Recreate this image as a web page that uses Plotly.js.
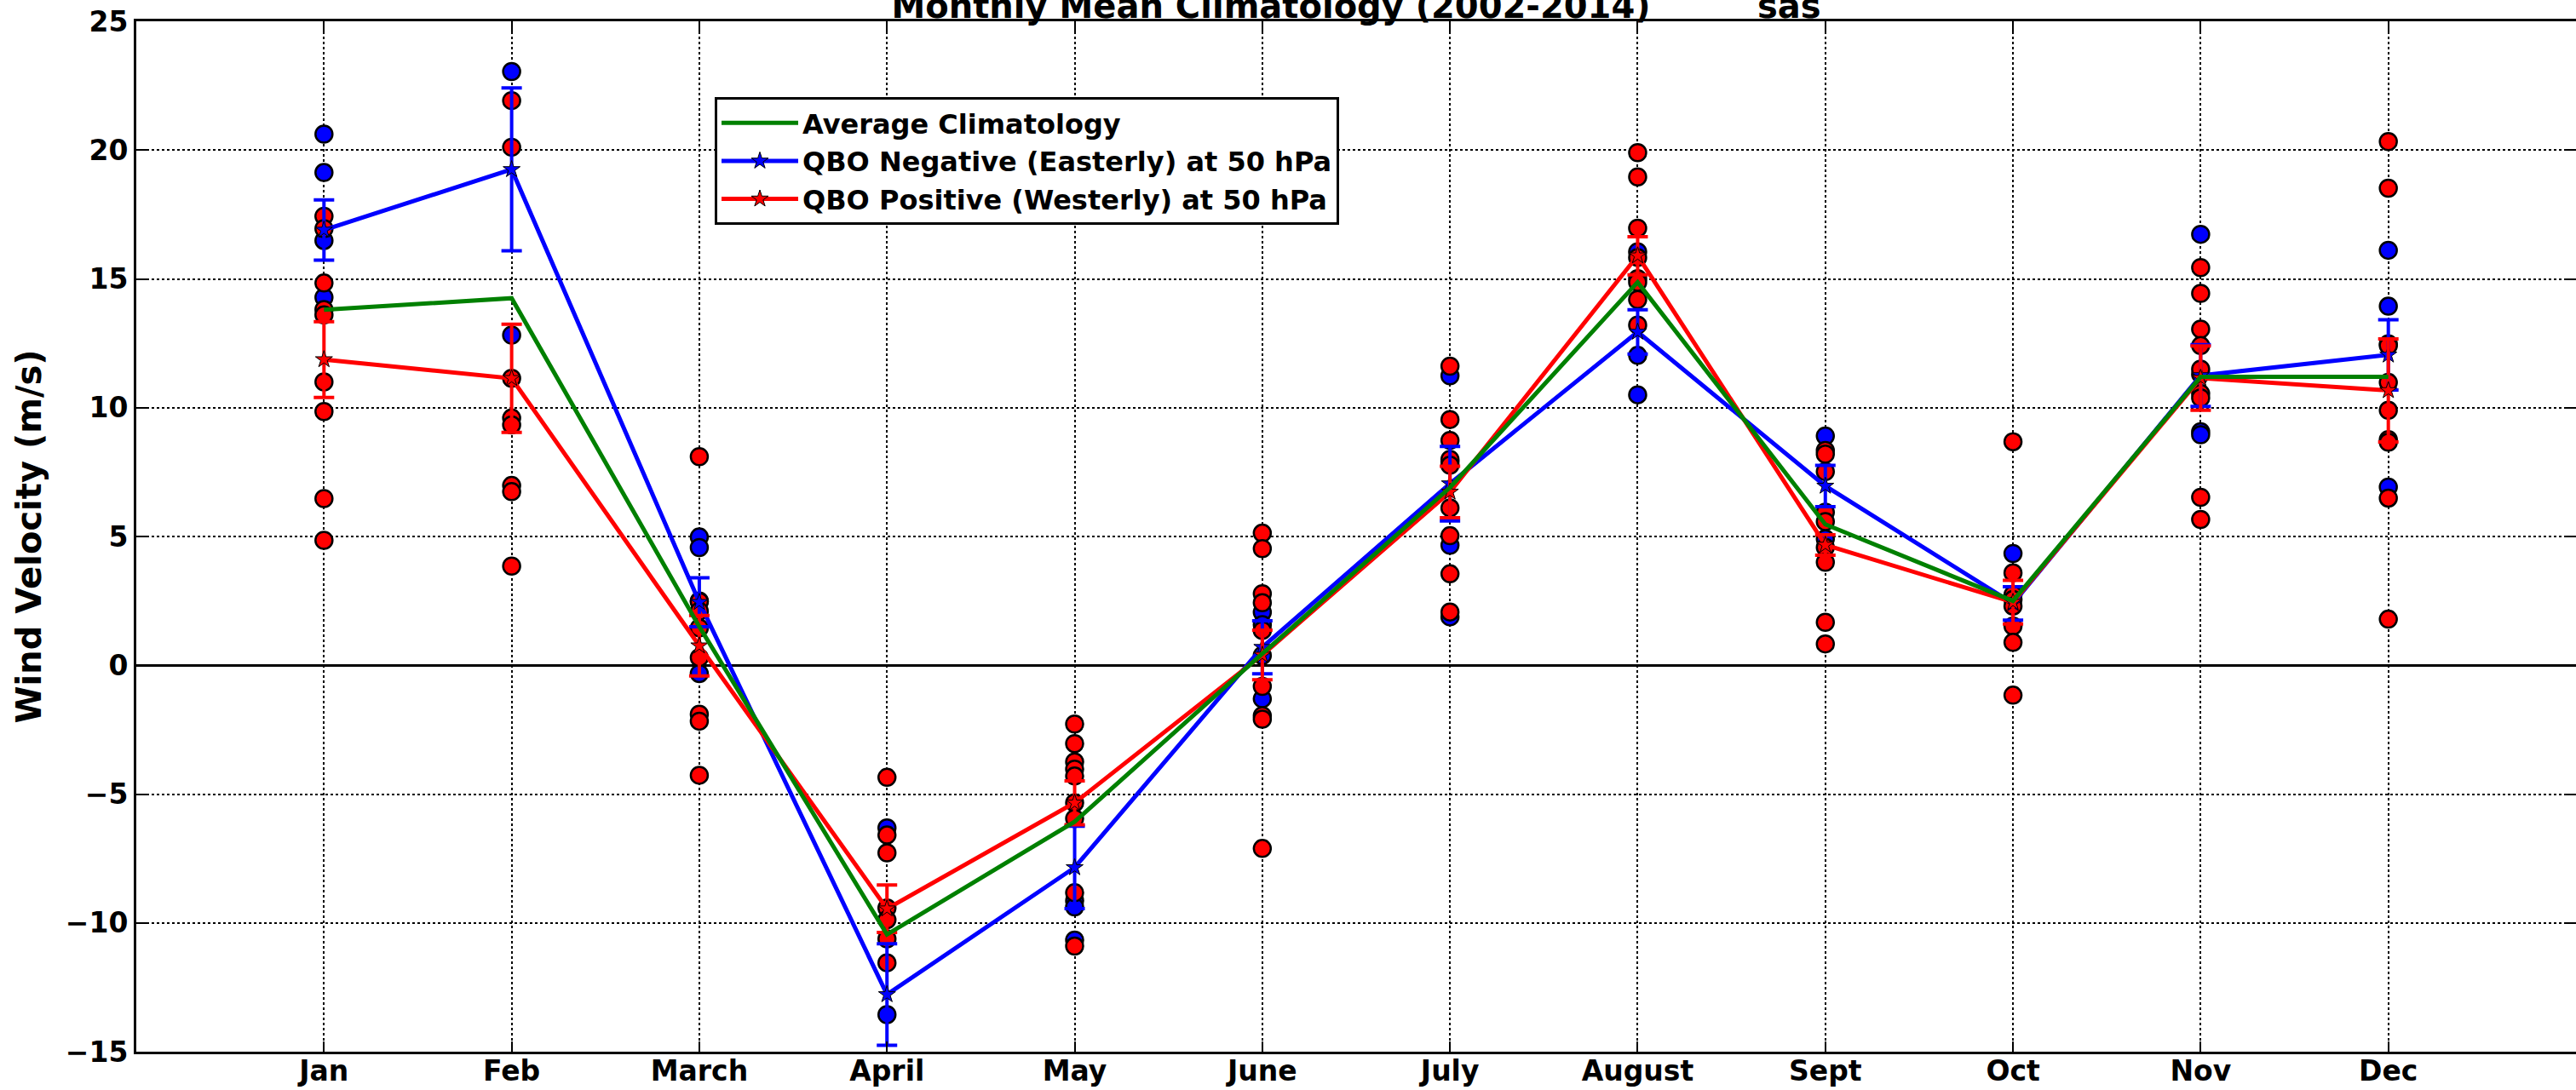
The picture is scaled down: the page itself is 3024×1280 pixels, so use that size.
<!DOCTYPE html>
<html>
<head>
<meta charset="utf-8">
<script src="https://cdn.plot.ly/plotly-3.0.1.min.js"></script>
<style>
html,body{margin:0;padding:0;background:#fff;}
#chart{width:3024px;height:1280px;}
</style>
</head>
<body>
<div id="chart"></div>
<script>
// ---- data ----
const monthLabels = ["Jan","Feb","March","April","May","June","July","August","Sept","Oct","Nov","Dec"];
const monthIndex = [1,2,3,4,5,6,7,8,9,10,11,12];
const yTickVals = [-15,-10,-5,0,5,10,15,20,25];

const avgClimatology = [13.8, 14.25, 1.5, -10.45, -6.07, 0.45, 6.9, 14.87, 5.47, 2.5, 11.2, 11.2];
const qboNegMean = [16.9, 19.25, 2.45, -12.78, -7.85, 0.7, 7.05, 12.94, 6.96, 2.4, 11.25, 12.05];
const qboNegErr  = [1.17, 3.16, 0.95, 1.97, 1.6, 1.03, 1.45, 0.86, 0.8, 0.65, 1.2, 1.36];
const qboPosMean = [11.87, 11.14, 0.76, -9.45, -5.34, 0.4, 6.73, 15.9, 4.67, 2.45, 11.15, 10.67];
const qboPosErr  = [1.47, 2.1, 1.17, 0.92, 0.85, 0.96, 1.0, 0.74, 0.4, 0.85, 1.25, 2.0];

const qboNegPoints = [
  [20.62, 19.13, 16.49, 14.28],
  [23.05, 12.82],
  [4.98, 4.57, 2.5, -0.32],
  [-6.31, -13.56],
  [-9.14, -9.38, -10.67],
  [2.06, 1.58, 0.38, -1.3],
  [11.24, 7.9, 4.66, 1.88],
  [16.05, 12.03, 10.5],
  [8.9, 4.91],
  [4.34],
  [16.73, 11.3, 9.07, 8.95],
  [16.11, 13.94, 12.48, 6.92]
];
const qboPosPoints = [
  [17.43, 16.95, 14.84, 13.81, 13.6, 11.0, 9.85, 6.47, 4.85],
  [21.92, 20.11, 11.14, 9.6, 9.33, 6.98, 6.74, 3.85],
  [8.1, 2.47, 2.1, 1.45, 0.3, -1.9, -2.17, -4.27],
  [-4.35, -6.59, -7.28, -9.42, -9.88, -10.62, -11.55],
  [-2.28, -3.04, -3.75, -4.03, -4.3, -5.34, -5.95, -8.83, -10.9],
  [5.13, 4.53, 2.78, 2.43, 1.35, -0.82, -1.96, -2.09, -7.11],
  [11.61, 9.54, 8.73, 7.99, 7.77, 6.11, 5.03, 3.55, 2.07],
  [19.9, 18.96, 16.97, 15.83, 15.01, 14.87, 14.2, 13.21],
  [8.34, 8.2, 7.52, 5.94, 5.58, 4.58, 4.0, 1.67, 0.83],
  [8.68, 3.59, 2.74, 2.55, 2.3, 1.52, 0.89, -1.16],
  [15.44, 14.44, 13.05, 12.41, 11.5, 10.55, 10.38, 6.52, 5.66],
  [20.33, 18.52, 12.41, 10.98, 9.9, 8.76, 8.66, 6.49, 1.79]
];

const titleText = "Monthly Mean Climatology (2002-2014)\u00A0\u00A0\u00A0\u00A0\u00A0\u00A0\u00A0\u00A0\u00A0sas";
const yTitle = "Wind Velocity (m/s)";
const nameAvg = "Average Climatology";
const nameNeg = "QBO Negative (Easterly) at 50 hPa";
const namePos = "QBO Positive (Westerly) at 50 hPa";

// ---- build traces ----
function flatten(pts){
  const xs=[], ys=[];
  pts.forEach((arr,i)=>arr.forEach(v=>{xs.push(monthIndex[i]); ys.push(v);}));
  return {xs, ys};
}
const negF = flatten(qboNegPoints);
const posF = flatten(qboPosPoints);
const FONT = "DejaVu Sans, Liberation Sans, sans-serif";

const traces = [
  {x: negF.xs, y: negF.ys, type:'scatter', mode:'markers', showlegend:false, hoverinfo:'y',
   marker:{symbol:'circle', size:20, color:'#0000ff', line:{color:'#000', width:2.5}}},
  {x: posF.xs, y: posF.ys, type:'scatter', mode:'markers', showlegend:false, hoverinfo:'y',
   marker:{symbol:'circle', size:20, color:'#ff0000', line:{color:'#000', width:2.5}}},
  {x: monthIndex, y: qboNegMean, type:'scatter', mode:'lines+markers', name:nameNeg, legendrank:2, legendgroup:'b',
   line:{color:'#0000ff', width:5},
   marker:{symbol:'star', size:15, color:'#0000ff', line:{color:'#000', width:1}},
   error_y:{type:'data', array:qboNegErr, visible:true, color:'#0000ff', thickness:4, width:12}},
  {x: monthIndex, y: qboPosMean, type:'scatter', mode:'lines+markers', name:namePos, legendrank:3, legendgroup:'c',
   line:{color:'#ff0000', width:5},
   marker:{symbol:'star', size:15, color:'#ff0000', line:{color:'#000', width:1}},
   error_y:{type:'data', array:qboPosErr, visible:true, color:'#ff0000', thickness:4, width:12}},
  {x: monthIndex, y: avgClimatology, type:'scatter', mode:'lines', name:nameAvg, legendrank:1, legendgroup:'a',
   line:{color:'#008000', width:5}}
];

const layout = {
  width:3024, height:1280,
  paper_bgcolor:'#fff', plot_bgcolor:'#fff',
  margin:{l:160, r:0, t:25, b:45, pad:0},
  font:{family:FONT, color:'#000', size:33, weight:'bold'},
  title:{text:titleText, font:{family:FONT, size:40, weight:'bold', color:'#000'},
         xref:'paper', x:0.5, xanchor:'center', yref:'container', y:1-21/1280, yanchor:'bottom'},
  showlegend:true,
  legend:{x:(839-160)/2864, xanchor:'left', y:(1235-114)/1210, yanchor:'top',
          bgcolor:'#fff', bordercolor:'#000', borderwidth:3,
          font:{family:FONT, size:32, weight:'bold', color:'#000'},
          traceorder:'normal', tracegroupgap:5, itemwidth:90},
  xaxis:{range:[0,13], tickvals:monthIndex, ticktext:monthLabels,
         showline:true, linecolor:'#000', linewidth:3, mirror:'ticks',
         ticks:'inside', ticklen:12, tickwidth:2, tickcolor:'#000',
         showgrid:true, gridcolor:'#000', gridwidth:2, griddash:'dot',
         zeroline:false, ticklabelstandoff:-9,
         tickfont:{family:FONT, size:33, weight:'bold'}},
  yaxis:{range:[-15,25], tickvals:yTickVals,
         showline:true, linecolor:'#000', linewidth:3, mirror:'ticks',
         ticks:'inside', ticklen:12, tickwidth:2, tickcolor:'#000',
         showgrid:true, gridcolor:'#000', gridwidth:2, griddash:'dot',
         zeroline:true, zerolinecolor:'#000', zerolinewidth:3,
         tickfont:{family:FONT, size:33, weight:'bold'},
         title:{text:yTitle, font:{family:FONT, size:40, weight:'bold'}, standoff:16}}
};

Plotly.newPlot('chart', traces, layout, {staticPlot:true, displayModeBar:false});
</script>
</body>
</html>
